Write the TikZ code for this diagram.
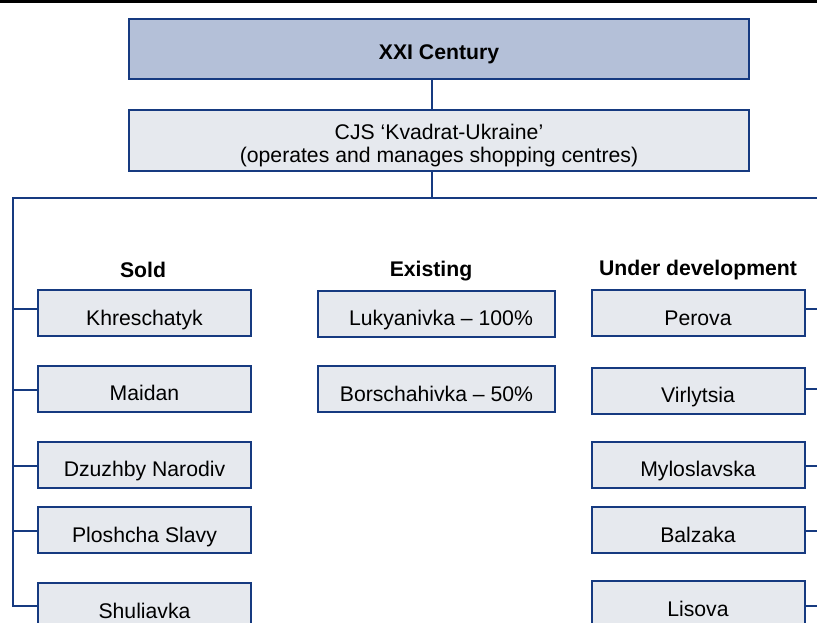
\documentclass[tikz,border=0pt]{standalone}
\usepackage{fontspec}
\setmainfont{Liberation Sans}
\definecolor{navy}{RGB}{22,58,128}
\definecolor{topfill}{RGB}{180,192,216}
\definecolor{boxfill}{RGB}{230,233,238}
\begin{document}
\begin{tikzpicture}[x=1pt,y=-1pt,
  every node/.style={font=\fontsize{21.2}{25}\selectfont},
  box/.style={draw=navy, line width=2pt, fill=boxfill, inner sep=0pt,
              minimum width=213pt, minimum height=46pt, anchor=center,
              text height=26pt, text depth=1.2pt},
  bigbox/.style={draw=navy, line width=2pt, inner sep=0pt,
              minimum width=620pt, minimum height=60pt, anchor=center},
  conn/.style={draw=navy, line width=2pt},
  hdr/.style={font=\fontsize{21.2}{25}\selectfont\bfseries, anchor=center}]
\clip (0,0) rectangle (817,622);
\fill[white] (0,0) rectangle (817,622);
\draw[line width=3pt] (0,1.5) -- (817,1.5);

\node[bigbox, fill=topfill, font=\fontsize{21.2}{25}\selectfont\bfseries,
      text height=22pt, text depth=1pt] (top) at (439,48.5) {XXI Century};
\node[bigbox, fill=boxfill, minimum height=61pt,
      font=\fontsize{21.2}{23.7}\selectfont, text height=46pt, text depth=1.6pt] (cjs) at (439,140.5)
  {\begin{tabular}[b]{@{}c@{}}CJS `Kvadrat-Ukraine'\\(operates and manages shopping centres)\end{tabular}};

\coordinate (t1) at (432,79);
\coordinate (t2) at (432,110);
\coordinate (t3) at (432,171);
\coordinate (hj) at (432,198);
\coordinate (lt) at (13,198);
\coordinate (rt) at (830,198);
\coordinate (lb) at (13,606);
\coordinate (rb) at (830,606);

\draw[conn] (t1) -- (t2);
\draw[conn] (t3) -- (hj);
\draw[conn] (lb) -- (lt) -- (rt) -- (rb);

\node[hdr] (hsold) at (143,270) {Sold};
\node[hdr] (hexist) at (431,271) {Existing};
\node[hdr] (hdev) at (698,270) {Under development};

\node[box] (s1) at (144.5,313) {Khreschatyk};
\node[box] (s2) at (144.5,388.5) {Maidan};
\node[box] (s3) at (144.5,464.5) {Dzuzhby Narodiv};
\node[box] (s4) at (144.5,530) {Ploshcha Slavy};
\node[box] (s5) at (144.5,606) {Shuliavka};

\node[box, minimum width=237pt] (e1) at (436.5,313.5) {\hspace*{9pt}Lukyanivka -- 100\%};
\node[box, minimum width=237pt] (e2) at (436.5,389) {Borschahivka -- 50\%};

\node[box] (d1) at (698,313) {Perova};
\node[box] (d2) at (698,390.5) {Virlytsia};
\node[box] (d3) at (698,464.5) {Myloslavska};
\node[box] (d4) at (698,530) {Balzaka};
\node[box] (d5) at (698,604) {Lisova};

\draw[conn] ([yshift=4pt]s1.west) -- ++(-25,0);
\draw[conn] ([yshift=-1.5pt]s2.west) -- ++(-25,0);
\draw[conn] ([yshift=-1.5pt]s3.west) -- ++(-25,0);
\draw[conn] ([yshift=-1pt]s4.west) -- ++(-25,0);
\draw[conn] (s5.west) -- ++(-25,0);

\draw[conn] ([yshift=4pt]d1.east) -- ++(30,0);
\draw[conn] ([yshift=1.5pt]d2.east) -- ++(30,0);
\draw[conn] ([yshift=-1.5pt]d3.east) -- ++(30,0);
\draw[conn] ([yshift=-1pt]d4.east) -- ++(30,0);
\draw[conn] ([yshift=-2pt]d5.east) -- ++(30,0);
\end{tikzpicture}
\end{document}
